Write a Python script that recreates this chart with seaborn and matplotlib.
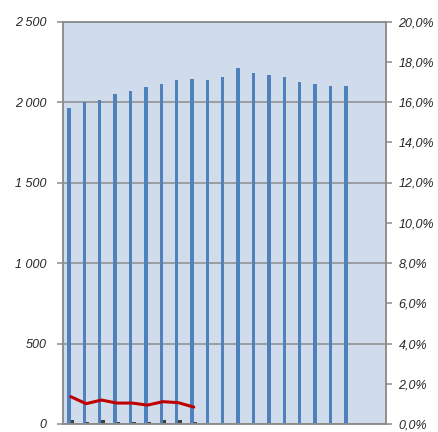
import numpy as np
import pandas as pd
import matplotlib
matplotlib.use("Agg")
import matplotlib.pyplot as plt
import matplotlib.ticker as mticker
import seaborn as sns

# 21 category slots, only the first 19 carry values
periods = [str(i) for i in range(1, 22)]
main_values = [1961, 1998, 2012, 2048, 2066, 2091, 2112, 2135, 2145, 2135,
               2155, 2209, 2178, 2168, 2155, 2122, 2112, 2101, 2101]
small_values = [27, 14, 27, 14, 14, 14, 27, 27, 14]
rate_values = [1.36, 1.01, 1.19, 1.04, 1.04, 0.94, 1.11, 1.06, 0.84]

bg = "#D0DCEB"
blue = "#4F81BD"
dark = "#404040"
red = "#C00000"
grid = "#8C8C8C"
txt = "#262626"

sns.set_style("white")
plt.rcParams["font.family"] = ["Liberation Sans", "DejaVu Sans"]

rows = []
for i, p in enumerate(periods):
    rows.append({"period": p, "series": "main",
                 "value": main_values[i] if i < len(main_values) else np.nan})
    rows.append({"period": p, "series": "small",
                 "value": small_values[i] if i < len(small_values) else np.nan})
df = pd.DataFrame(rows)

fig = plt.figure(figsize=(4.38, 4.32), dpi=100)
ax = fig.add_axes([63 / 438, 8 / 432, 323 / 438, 402.5 / 432])
ax.set_facecolor(bg)

sns.barplot(data=df, x="period", y="value", hue="series", order=periods,
            hue_order=["main", "small"], palette=[blue, dark],
            width=0.44, dodge=True, legend=False, ax=ax, saturation=1,
            linewidth=0)

ax.set_xlim(-0.5, len(periods) - 0.5)
ax.set_ylim(0, 2500)
ax.set_yticks(np.arange(0, 2501, 500))
ax.yaxis.set_major_formatter(mticker.FuncFormatter(
    lambda v, _: f"{int(v):,}".replace(",", " ")))
ax.set_xticks([])
ax.set_xlabel("")
ax.set_ylabel("")
ax.yaxis.grid(True, color=grid, linewidth=1.1)
ax.set_axisbelow(True)
ax.tick_params(axis="y", length=4, width=1.1, color=grid, pad=8,
               labelsize=9, labelcolor=txt)
for lab in ax.get_yticklabels():
    lab.set_fontstyle("italic")
for s in ax.spines.values():
    s.set_color(grid)
    s.set_linewidth(1.1)

ax2 = ax.twinx()
rate_df = pd.DataFrame({"pos": np.arange(len(rate_values)), "rate": rate_values})
sns.lineplot(data=rate_df, x="pos", y="rate", color=red, linewidth=2.2, ax=ax2)
ax2.set_ylim(0, 20)
ax2.set_yticks(np.arange(0, 20.1, 2))
ax2.yaxis.set_major_formatter(mticker.FuncFormatter(
    lambda v, _: f"{v:.1f}%".replace(".", ",")))
ax2.set_xlabel("")
ax2.set_ylabel("")
ax2.tick_params(axis="y", length=4, width=1.1, color=grid, pad=5,
                labelsize=9, labelcolor=txt)
for lab in ax2.get_yticklabels():
    lab.set_fontstyle("italic")
for s in ax2.spines.values():
    s.set_color(grid)
    s.set_linewidth(1.1)

fig.savefig("out.png", dpi=100)
